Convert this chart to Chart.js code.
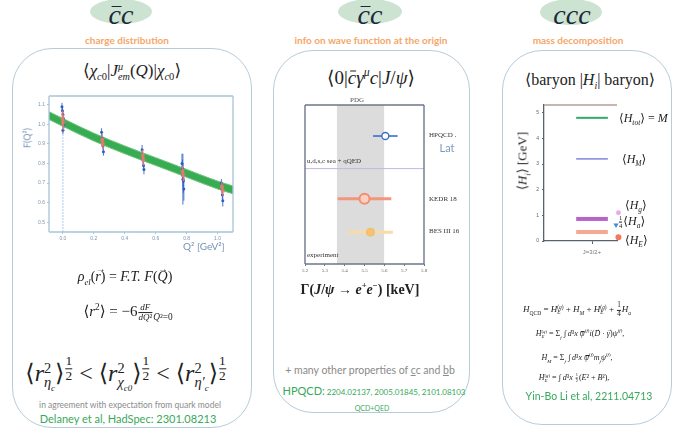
<!DOCTYPE html>
<html><head><meta charset="utf-8">
<script src="https://cdn.jsdelivr.net/npm/chart.js@4.4.1/dist/chart.umd.min.js"></script>
<style>
html,body{margin:0;padding:0;background:#fff;}
#root{position:relative;width:675px;height:436px;overflow:hidden;background:#fff;}
.panel{position:absolute;border:1.4px solid #b7ccd9;border-radius:40px;box-sizing:border-box;}
.ell{position:absolute;background:#cde3d1;border-radius:50%;}
.t{position:absolute;white-space:nowrap;line-height:1;}
.c{transform:translate(-50%,-50%);}
.l{transform:translateY(-50%);}
.big{font-family:"Liberation Serif","DejaVu Serif",serif;font-style:italic;font-size:28px;color:#1b293b;}
.bar{position:relative;display:inline-block;}
.bar::before{content:"";position:absolute;left:22%;right:-4%;top:0.18em;border-top:0.07em solid currentColor;}
.vec{position:relative;display:inline-block;}
.vec::after{content:"→";position:absolute;left:0.05em;top:-0.6em;font-size:0.7em;font-style:normal;}
.or{font-family:Lato,sans-serif;font-weight:bold;font-size:10px;color:#f6a66a;}
.f{font-family:"Liberation Serif","DejaVu Serif",serif;color:#222;}
.f i{font-style:italic;}
.f sub,.f sup{font-size:0.62em;line-height:0;}
.ss{display:inline-block;vertical-align:-0.42em;font-size:0.6em;line-height:1.0;text-align:left;}
.ss>span{display:block;}
.fr{display:inline-block;vertical-align:middle;text-align:center;font-size:0.55em;line-height:1.05;margin:0 1px;}
.fr>span{display:block;}
.fr>span:first-child{border-bottom:0.8px solid currentColor;}
.sm{font-family:"Liberation Serif",serif;font-size:7px;color:#333;}
canvas{position:absolute;}
</style>
</head><body>
<div id="root">
 <div class="panel" style="left:12px;top:48px;width:240px;height:380px"></div>
 <div class="panel" style="left:273px;top:50px;width:197px;height:363px"></div>
 <div class="panel" style="left:502px;top:50px;width:170px;height:375px"></div>

 <div class="ell" style="left:90px;top:-1px;width:62px;height:25px"></div>
 <div class="ell" style="left:338px;top:-1px;width:64px;height:25px"></div>
 <div class="ell" style="left:540px;top:-1px;width:62px;height:26px"></div>
 <div class="t c big" style="left:121px;top:15px"><span class="bar">c</span>c</div>
 <div class="t c big" style="left:370px;top:15px"><span class="bar">c</span>c</div>
 <div class="t c big" style="left:572px;top:15px">ccc</div>

 <div class="t c or" style="left:127px;top:40px">charge distribution</div>
 <div class="t c or" style="left:371px;top:40px">info on wave function at the origin</div>
 <div class="t c or" style="left:578px;top:40px">mass decomposition</div>

 <!-- panel 1 -->
 <div class="t c f" style="left:132px;top:72px;font-size:17px">⟨<i>χ</i><sub><i>c</i>0</sub>|<i>J</i><span class="ss"><span><i>μ</i></span><span><i>em</i></span></span>(<i>Q</i>)|<i>χ</i><sub><i>c</i>0</sub>⟩</div>
 <canvas id="c1" width="232" height="172" style="left:14px;top:88px"></canvas>
 <div class="t c" style="left:27px;top:138px;transform:translate(-50%,-50%) rotate(-90deg);font:9px Lato,sans-serif;color:#7593b5">F(Q²)</div>
 <div class="t l" style="left:183px;top:246px;font:10px Lato,sans-serif;color:#7593b5">Q² [GeV²]</div>
 <div class="t c f" style="left:125px;top:277px;font-size:14px"><i>ρ</i><sub><i>el</i></sub>(<i class="vec">r</i>) = <i>F.T.</i> <i>F</i>(<i class="vec">Q</i>)</div>
 <div class="t c f" style="left:128px;top:313px;font-size:15px">⟨<i>r</i><sup>2</sup>⟩ = −6<span class="fr" style="font-size:0.6em"><span><i>dF</i></span><span><i>dQ</i>²</span></span><sub><i>Q</i>²=0</sub></div>
 <div class="t c f" style="left:126px;top:372px;font-size:24px">⟨<i>r</i><span class="ss"><span>2</span><span><i>η<sub>c</sub></i></span></span>⟩<sup><span class="fr" style="font-size:0.9em"><span>1</span><span>2</span></span></sup> &lt; ⟨<i>r</i><span class="ss"><span>2</span><span><i>χ<sub>c0</sub></i></span></span>⟩<sup><span class="fr" style="font-size:0.9em"><span>1</span><span>2</span></span></sup> &lt; ⟨<i>r</i><span class="ss"><span>2</span><span><i>η′<sub>c</sub></i></span></span>⟩<sup><span class="fr" style="font-size:0.9em"><span>1</span><span>2</span></span></sup></div>
 <div class="t c" style="left:130px;top:405px;font:8.5px Lato,sans-serif;color:#8c8c8c">in agreement with expectation from quark model</div>
 <div class="t c" style="left:128px;top:418px;font:11px Lato,sans-serif;color:#38a95a">Delaney et al, HadSpec: 2301.08213</div>

 <!-- panel 2 -->
 <div class="t c f" style="left:371px;top:77px;font-size:19px">⟨0|<i class="bar">c</i><i>γ</i><sup><i>μ</i></sup><i>c</i>|<i>J</i>/<i>ψ</i>⟩</div>
 <canvas id="c2" width="190" height="190" style="left:280px;top:92px"></canvas>
 <div class="t c sm" style="left:357px;top:100px;color:#555">PDG</div>
 <div class="t l sm" style="left:307px;top:161px">u,d,s,c sea + qQED</div>
 <div class="t l sm" style="left:307px;top:255px">experiment</div>
 <div class="t l sm" style="left:429px;top:135px">HPQCD .</div>
 <div class="t c" style="left:447px;top:147px;font:11px Lato,sans-serif;color:#7b9bbf">Lat</div>
 <div class="t l sm" style="left:429px;top:199px">KEDR 18</div>
 <div class="t l sm" style="left:429px;top:231px">BES III 16</div>
 <div class="t c f" style="left:360px;top:290px;font-size:14px;font-weight:bold">Γ(<i>J</i>/<i>ψ</i> → <i>e</i><sup>+</sup><i>e</i><sup>−</sup>) [keV]</div>
 <div class="t c" style="left:370px;top:370px;font:10.5px Lato,sans-serif;color:#8a8a8a">+ many other properties of <u>c</u>c and <u>b</u>b</div>
 <div class="t c" style="left:374px;top:390px;font:8px Lato,sans-serif;color:#38a95a"><span style="font-size:11px">HPQCD:</span> 2204.02137, 2005.01845, 2101.08103</div>
 <div class="t c" style="left:372px;top:408px;font:7px Lato,sans-serif;color:#38a95a">QCD+QED</div>

 <!-- panel 3 -->
 <div class="t c f" style="left:590px;top:80px;font-size:16px">⟨baryon |<i>H</i><sub><i>i</i></sub>| baryon⟩</div>
 <canvas id="c3" width="130" height="175" style="left:500px;top:95px"></canvas>
 <div class="t c f" style="left:522px;top:161px;transform:translate(-50%,-50%) rotate(-90deg);font-size:13px">⟨<i>H<sub>i</sub></i>⟩ [GeV]</div>
 <div class="t l f" style="left:619px;top:118px;font-size:12px">⟨<i>H<sub>tot</sub></i>⟩ = <i>M</i></div>
 <div class="t l f" style="left:622px;top:159px;font-size:12px">⟨<i>H<sub>M</sub></i>⟩</div>
 <div class="t l f" style="left:625px;top:205px;font-size:12px">⟨<i>H<sub>g</sub></i>⟩</div>
 <div class="t l f" style="left:618px;top:222px;font-size:12px"><span class="fr"><span>1</span><span>4</span></span>⟨<i>H<sub>a</sub></i>⟩</div>
 <div class="t l f" style="left:625px;top:240px;font-size:12px">⟨<i>H<sub>E</sub></i>⟩</div>
 <div class="t c f" style="left:577px;top:310px;font-size:9px"><i>H</i><sub>QCD</sub> = <i>H</i><span class="ss"><span>(<i>q</i>)</span><span><i>E</i></span></span> + <i>H<sub>M</sub></i> + <i>H</i><span class="ss"><span>(<i>g</i>)</span><span><i>E</i></span></span> + <span class="fr" style="font-size:0.8em"><span>1</span><span>4</span></span><i>H<sub>a</sub></i></div>
 <div class="t c f" style="left:580px;top:335px;font-size:8px"><i>H</i><span class="ss"><span>(<i>q</i>)</span><span><i>E</i></span></span> = Σ<sub><i>f</i></sub> ∫ <i>d</i>³<i>x</i> <i class="bar">ψ</i><sup>(<i>f</i>)</sup><i>i</i>(<i class="vec">D</i> · <i class="vec">γ</i>)<i>ψ</i><sup>(<i>f</i>)</sup>,</div>
 <div class="t c f" style="left:577px;top:358px;font-size:8px"><i>H<sub>M</sub></i> = Σ<sub><i>f</i></sub> ∫ <i>d</i>³<i>x</i> <i class="bar">ψ</i><sup>(<i>f</i>)</sup><i>m<sub>f</sub>ψ</i><sup>(<i>f</i>)</sup>,</div>
 <div class="t c f" style="left:574px;top:378px;font-size:8px"><i>H</i><span class="ss"><span>(<i>g</i>)</span><span><i>E</i></span></span> = ∫ <i>d</i>³<i>x</i> <span class="fr"><span>1</span><span>2</span></span>(<i>E</i>² + <i>B</i>²),</div>
 <div class="t c" style="left:589px;top:396px;font:10.5px Lato,sans-serif;color:#38a95a">Yin-Bo Li et al, 2211.04713</div>
</div>

<script>
// ---------------- data: panel 1 (charge form factor) ----------------
const p1XTicks = [0.0, 0.2, 0.4, 0.6, 0.8, 1.0];
const p1YTicks = [0.5, 0.6, 0.7, 0.8, 0.9, 1.0, 1.1];
const bandQ  = [-0.09, 0.0, 0.2, 0.4, 0.6, 0.8, 1.0, 1.1];
const bandHi = [1.065, 1.030, 0.955, 0.890, 0.830, 0.770, 0.710, 0.685];
const bandLo = [1.025, 0.990, 0.915, 0.850, 0.790, 0.730, 0.670, 0.645];
const blueQ   = [-0.006,-0.003,0.0,0.003,0.006,0.0, 0.250,0.253,0.256,0.259,0.262, 0.512,0.515,0.518,0.521,0.524, 0.770,0.773,0.776,0.779,0.782,0.776, 1.025,1.028,1.031,1.034];
const blueF   = [1.09,1.07,1.05,1.03,1.00,0.97, 0.96,0.93,0.91,0.89,0.86, 0.87,0.84,0.82,0.79,0.77, 0.80,0.77,0.74,0.71,0.67,0.72, 0.70,0.67,0.64,0.61];
const blueErr = [0.02,0.02,0.02,0.02,0.02,0.02, 0.02,0.02,0.02,0.02,0.02, 0.025,0.025,0.025,0.025,0.025, 0.05,0.05,0.06,0.06,0.06,0.13, 0.02,0.02,0.025,0.03];
const wideQ = [0.0], wideF = [1.0], wideErrLo = [0.55], wideErrHi = [0.08];
const redQ   = [-0.003,0.003, 0.253,0.259, 0.515,0.521, 0.773,0.779, 1.028,1.034];
const redF   = [1.03,1.01, 0.92,0.90, 0.84,0.82, 0.76,0.74, 0.68,0.66];
const redErr = [0.04,0.04, 0.03,0.03, 0.03,0.03, 0.03,0.03, 0.025,0.025];

// ---------------- data: panel 2 (J/psi leptonic width) ----------------
const p2XTicks = [5.2, 5.3, 5.4, 5.5, 5.6, 5.7, 5.8];
const pdgBand = [5.36, 5.60];
const measNames = ['HPQCD', 'KEDR 18', 'BES III 16'];
const measVal = [5.605, 5.50, 5.53];
const measErr = [0.062, 0.135, 0.113];
const measRow = [8.05, 4.1, 2.0];
const sepRow = 6.0;

// ---------------- data: panel 3 (mass decomposition) ----------------
const p3YTicks = [0, 1, 2, 3, 4, 5];
const p3XCat = ['J=3/2+'];
const levelNames = ['<H_tot>=M', '<H_M>', 'level3', 'level4'];
const levelVal = [4.8, 3.2, 0.86, 0.35];
const markerNames = ['<H_g>', '1/4<H_a>', '<H_E>'];
const markerVal = [1.1, 0.62, 0.15];

// ---------------- plugins ----------------
const errorBars = {
  id: 'errorBars',
  beforeDatasetDraw(chart, args) {
    const ds = chart.data.datasets[args.index];
    if (!ds.errLo) return;
    const horiz = ds.errAxis === 'x';
    const scale = horiz ? chart.scales.x : chart.scales.y;
    const ctx = chart.ctx;
    ctx.save();
    ctx.strokeStyle = ds.errColor; ctx.lineWidth = ds.errWidth || 1;
    if (ds.errDash) ctx.setLineDash(ds.errDash);
    args.meta.data.forEach((pt, i) => {
      const raw = ds.data[i]; const v = horiz ? raw.x : raw.y;
      const a = scale.getPixelForValue(v - ds.errLo[i]);
      const b = scale.getPixelForValue(v + ds.errHi[i]);
      ctx.beginPath();
      if (horiz) { ctx.moveTo(a, pt.y); ctx.lineTo(b, pt.y); }
      else { ctx.moveTo(pt.x, a); ctx.lineTo(pt.x, b); }
      ctx.stroke();
    });
    ctx.restore();
  }
};
const framePlugin = {
  id: 'frame',
  afterDatasetsDraw(chart, args, opts) {
    if (!opts || !opts.color) return;
    const {left, top, right, bottom} = chart.chartArea;
    const ctx = chart.ctx;
    const sides = opts.sides || ['top','right','bottom','left'];
    ctx.save(); ctx.strokeStyle = opts.color; ctx.lineWidth = opts.width || 1;
    ctx.beginPath();
    if (sides.includes('top')) { ctx.moveTo(left, top); ctx.lineTo(right, top); }
    if (sides.includes('right')) { ctx.moveTo(right, top); ctx.lineTo(right, bottom); }
    if (sides.includes('bottom')) { ctx.moveTo(left, bottom); ctx.lineTo(right, bottom); }
    if (sides.includes('left')) { ctx.moveTo(left, top); ctx.lineTo(left, bottom); }
    ctx.stroke(); ctx.restore();
  }
};
Chart.register(errorBars, framePlugin);
Chart.defaults.animation = false;
Chart.defaults.responsive = false;
Chart.defaults.font.family = "'Liberation Sans', sans-serif";
Chart.defaults.plugins.legend.display = false;
Chart.defaults.plugins.tooltip.enabled = false;

const pts = (xs, ys) => xs.map((x, i) => ({x, y: ys[i]}));
const fixW = w => s => { s.width = w; };
const fixH = h => s => { s.height = h; };
const setTicks = arr => s => { s.ticks = arr.map(v => ({value: v})); };

// ---------------- chart 1 ----------------
new Chart(document.getElementById('c1'), {
  type: 'scatter',
  data: { datasets: [
    { type: 'line', data: pts(bandQ, bandHi), borderColor: '#6cc47a', borderWidth: 1, pointRadius: 0, fill: false, cubicInterpolationMode: 'monotone', order: 5 },
    { type: 'line', data: pts(bandQ, bandLo), borderColor: '#6cc47a', borderWidth: 1, pointRadius: 0, fill: '-1', backgroundColor: 'rgba(38,165,68,0.92)', cubicInterpolationMode: 'monotone', order: 5 },
    { data: pts(wideQ, wideF), pointRadius: 0, errLo: wideErrLo, errHi: wideErrHi, errColor: 'rgba(110,160,220,0.55)', errWidth: 1, errDash: [2, 1], order: 3 },
    { data: pts(blueQ, blueF), pointRadius: 1.5, pointBackgroundColor: '#2b5fc4', pointBorderWidth: 0, errLo: blueErr, errHi: blueErr, errColor: 'rgba(45,95,200,0.85)', errWidth: 1, order: 2 },
    { data: pts(redQ, redF), pointStyle: 'rect', pointRadius: 2.6, pointBackgroundColor: 'rgba(240,125,105,0.65)', pointBorderWidth: 0, errLo: redErr, errHi: redErr, errColor: 'rgba(240,125,105,0.75)', errWidth: 1.6, order: 1 }
  ]},
  options: {
    layout: { padding: { left: 0, top: 8, right: 13, bottom: 0 } },
    plugins: { frame: { color: '#a7c5d8', width: 1.3 } },
    scales: {
      x: { type: 'linear', min: -0.09, max: 1.1, afterBuildTicks: setTicks(p1XTicks), afterFit: fixH(28),
           ticks: { font: { size: 5 }, color: '#7d94ae', padding: 2, callback: v => Number(v).toFixed(1) },
           grid: { drawOnChartArea: false, tickLength: 2, color: '#a7c5d8' }, border: { display: false } },
      y: { type: 'linear', min: 0.45, max: 1.145, afterBuildTicks: setTicks(p1YTicks), afterFit: fixW(35),
           ticks: { font: { size: 5 }, color: '#7d94ae', padding: 2, callback: v => Number(v).toFixed(1) },
           grid: { drawOnChartArea: false, tickLength: 2, color: '#a7c5d8' }, border: { display: false } }
    }
  }
});

// ---------------- chart 2 ----------------
const measStyles = [
  { pointRadius: 3.5, pointBackgroundColor: '#ffffff', pointBorderColor: '#3b6fc6', pointBorderWidth: 1.4, errColor: '#3b6fc6', errWidth: 1.6 },
  { pointRadius: 5, pointBackgroundColor: '#fbd0c2', pointBorderColor: '#f28d72', pointBorderWidth: 2, errColor: '#f4967c', errWidth: 3 },
  { pointRadius: 4, pointBackgroundColor: '#f6c274', pointBorderColor: '#f4bb66', pointBorderWidth: 1, errColor: '#f9dca4', errWidth: 3 }
];
new Chart(document.getElementById('c2'), {
  type: 'scatter',
  data: { datasets: [
    { type: 'line', data: [{x: pdgBand[0], y: 10}, {x: pdgBand[1], y: 10}], fill: 'start', backgroundColor: '#dcdcdc', borderWidth: 0, pointRadius: 0, order: 9 },
    { type: 'line', data: [{x: 5.2, y: sepRow}, {x: 5.8, y: sepRow}], borderColor: '#c6b6e2', borderWidth: 1, pointRadius: 0, fill: false, order: 8 },
    ...measNames.map((n, i) => Object.assign({ label: n, data: [{x: measVal[i], y: measRow[i]}], errAxis: 'x', errLo: [measErr[i]], errHi: [measErr[i]], order: 1 }, measStyles[i]))
  ]},
  options: {
    layout: { padding: { left: 25, top: 13, right: 46, bottom: 0 } },
    plugins: { frame: { color: '#6b7889', width: 1.4 } },
    scales: {
      x: { type: 'linear', min: 5.2, max: 5.8, afterBuildTicks: setTicks(p2XTicks), afterFit: fixH(18),
           ticks: { font: { size: 5, family: "'Liberation Serif', serif" }, color: '#666', padding: 2, maxRotation: 0, callback: v => Number(v).toFixed(1) },
           grid: { drawOnChartArea: false, tickLength: 2, color: '#6b7889' }, border: { display: false } },
      y: { type: 'linear', min: 0, max: 10, display: false }
    }
  }
});

// ---------------- chart 3 ----------------
const levelColors = ['#34a96a', '#7e87dc', '#b764c9', '#f4aa90'];
const levelWidths = [2, 1.5, 4, 4];
const markerStyles = [
  { x: 0.55, pointStyle: 'circle', pointRadius: 2.4, pointBackgroundColor: '#e9a8e8' },
  { x: 0.50, pointStyle: 'triangle', rotation: 60, pointRadius: 3, pointBackgroundColor: '#3d8fd7' },
  { x: 0.55, pointStyle: 'circle', pointRadius: 3, pointBackgroundColor: '#f2795c' }
];
new Chart(document.getElementById('c3'), {
  type: 'scatter',
  data: { datasets: [
    ...levelVal.map((v, i) => ({ type: 'line', label: levelNames[i], data: [{x: -0.33, y: v}, {x: 0.33, y: v}], borderColor: levelColors[i], borderWidth: levelWidths[i], pointRadius: 0, fill: false })),
    ...markerVal.map((v, i) => ({ label: markerNames[i], data: [{x: markerStyles[i].x, y: v}], clip: false, pointStyle: markerStyles[i].pointStyle, rotation: markerStyles[i].rotation || 0, pointRadius: markerStyles[i].pointRadius, pointBackgroundColor: markerStyles[i].pointBackgroundColor, pointBorderWidth: 0 }))
  ]},
  options: {
    layout: { padding: { left: 0, top: 10, right: 13, bottom: 0 } },
    plugins: { frame: { color: '#b49c94', width: 1.3, sides: ['top'] } },
    scales: {
      x: { type: 'linear', min: -1, max: 0.52, afterBuildTicks: setTicks([0]), afterFit: fixH(29),
           ticks: { font: { size: 6 }, color: '#777', padding: 5, callback: (v, i) => p3XCat[i] },
           grid: { drawOnChartArea: false, tickLength: 3, color: '#59636e' }, border: { color: '#59636e', width: 1.3 } },
      y: { type: 'linear', min: 0, max: 5.3, afterBuildTicks: setTicks(p3YTicks), afterFit: fixW(44),
           ticks: { font: { size: 5 }, color: '#666', padding: 3, callback: v => String(v) },
           grid: { drawOnChartArea: false, tickLength: 2, color: '#59636e' }, border: { color: '#59636e', width: 1.3 } }
    }
  }
});
</script>
</body></html>
